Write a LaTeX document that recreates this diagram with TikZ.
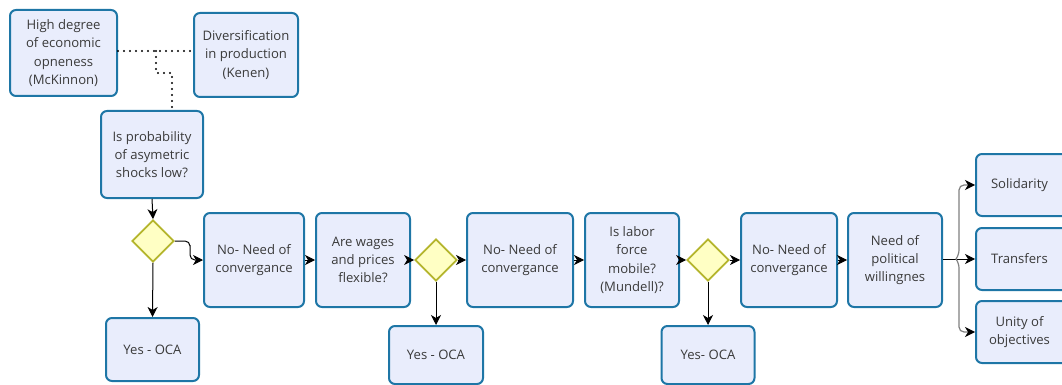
\documentclass[tikz,border=0pt]{standalone}
\usepackage{fontspec}
\setmainfont{Open Sans}
\usetikzlibrary{shapes.geometric,arrows.meta}
\definecolor{boxfill}{HTML}{E9EDFC}
\definecolor{boxdraw}{HTML}{1E76A6}
\definecolor{dfill}{HTML}{FFFFC4}
\definecolor{ddraw}{HTML}{B4B52C}
\definecolor{txt}{HTML}{3A3A3A}
\tikzset{
  box/.style={draw=boxdraw, fill=boxfill, line width=2pt, rounded corners=6pt,
    align=center, text=txt, inner sep=0pt,
    font=\fontsize{13.1}{18.3}\selectfont},
  dec/.style={diamond, aspect=1, draw=ddraw, fill=dfill, line width=1.8pt,
    minimum size=42pt, inner sep=0pt},
  conn/.style={line width=1pt, -{Stealth[length=10pt,width=10pt,inset=3pt]}},
  brconn/.style={line width=1.2pt, draw=gray, rounded corners=5pt, -{Stealth[length=10pt,width=10pt,inset=3pt,black]}},
  dots/.style={line width=2.2pt, dash pattern=on 0pt off 6pt, line cap=round}
}
\begin{document}
\begin{tikzpicture}[x=1pt,y=-1pt]
\useasboundingbox (0,0) rectangle (1062,385);
\clip (0,0) rectangle (1062,385);
% nodes
\node[box, minimum width=107pt, minimum height=86pt] (mck) at (63.5,53) {High degree\\of economic\\opneness\\(McKinnon)};
\node[box, minimum width=104pt, minimum height=84pt] (ken) at (246,55) {Diversification\\in production\\(Kenen)};
\node[box, minimum width=102pt, minimum height=87pt] (prob) at (152,154.5) {Is probability\\of asymetric\\shocks low?};
\node[dec] (d1) at (153,241) {};
\node[box, minimum width=93pt, minimum height=63pt] (yes1) at (152.5,349.5) {Yes - OCA};
\node[box, minimum width=100pt, minimum height=94pt] (no1) at (254,260) {No- Need of\\convergance};
\node[box, minimum width=94pt, minimum height=94pt] (wag) at (363,260) {Are wages\\and prices\\flexible?};
\node[dec] (d2) at (436,260) {};
\node[box, minimum width=94pt, minimum height=58pt] (yes2) at (436,355) {Yes - OCA};
\node[box, minimum width=106pt, minimum height=94pt] (no2) at (520,260) {No- Need of\\convergance};
\node[box, minimum width=94pt, minimum height=94pt] (lab) at (632,260) {Is labor\\force\\mobile?\\(Mundell)?};
\node[dec] (d3) at (708,260) {};
\node[box, minimum width=93pt, minimum height=58pt] (yes3) at (708,355) {Yes- OCA};
\node[box, minimum width=96pt, minimum height=94pt] (no3) at (789,260) {No- Need of\\convergance};
\node[box, minimum width=94pt, minimum height=94pt] (pol) at (895,260) {Need of\\political\\willingnes};
\node[box, minimum width=100pt, minimum height=62pt, anchor=west] (sol) at (975,185) {Solidarity\hspace*{13pt}};
\node[box, minimum width=100pt, minimum height=62pt, anchor=west] (tra) at (975,259) {Transfers\hspace*{13pt}};
\node[box, minimum width=100pt, minimum height=62pt, anchor=west] (uni) at (975,332) {Unity of\hspace*{13pt}\\objectives\hspace*{13pt}};
% dotted links
\coordinate (j1) at (156,51);
\coordinate (j2) at (156,73);
\coordinate (j3) at (172,73);
\draw[dots] (mck.east |- j1) -- (ken.west |- j1);
\draw[dots] (j1) -- (j2) -- (j3) -- (prob.north -| j3);
% flow
\coordinate (k1) at (190,250);
\draw[conn] (prob.south) -- (d1.north);
\draw[conn] (d1.south) -- (yes1.north);
\draw[conn, rounded corners=5pt] (d1.east) -| (k1) |- (no1.west);
\draw[conn] (no1.east) -- (wag.west);
\draw[conn] (wag.east) -- (d2.west);
\draw[conn] (d2.east) -- (no2.west);
\draw[conn] (d2.south) -- (yes2.north);
\draw[conn] (no2.east) -- (lab.west);
\draw[conn] (lab.east) -- (d3.west);
\draw[conn] (d3.east) -- (no3.west);
\draw[conn] (d3.south) -- (yes3.north);
\draw[conn] (no3.east) -- (pol.west);
% branch
\coordinate (br) at (956,259);
\draw[line width=1pt] (pol.east |- br) -- (br);
\draw[conn] (br) -- (tra.west);
\draw[brconn] (br) -- (959,255) -- (959,185) -- (sol.west);
\draw[brconn] (br) -- (959,263) -- (959,332) -- (uni.west);
\end{tikzpicture}
\end{document}
